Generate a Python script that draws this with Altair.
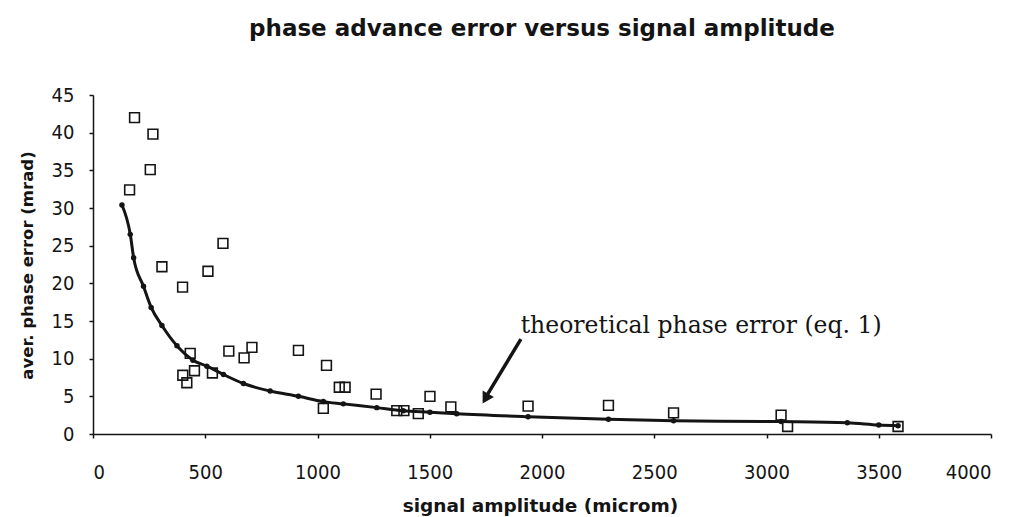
import altair as alt
import pandas as pd

# measured points (open squares)
meas_x = [163, 185, 255, 267, 307, 399, 400, 418, 433, 452, 512, 532, 579, 605, 673, 708,
          915, 1026, 1040, 1097, 1123, 1261, 1353, 1385, 1449, 1501, 1594, 1938, 2296,
          2586, 3065, 3094, 3586]
meas_y = [32.4, 42.0, 35.1, 39.8, 22.2, 19.5, 7.8, 6.8, 10.7, 8.4, 21.6, 8.1, 25.3, 11.0,
          10.1, 11.5, 11.1, 3.4, 9.1, 6.2, 6.2, 5.3, 3.1, 3.1, 2.7, 5.0, 3.6, 3.7, 3.8,
          2.8, 2.5, 1.0, 1.0]

# theoretical curve (line with dots)
theo_x = [129, 166, 181, 225, 259, 307, 374, 445, 507, 581, 670, 789, 915, 1026, 1115,
          1264, 1382, 1501, 1620, 1938, 2296, 2586, 3065, 3360, 3500, 3586]
theo_y = [30.4, 26.5, 23.4, 19.6, 16.8, 14.4, 11.7, 9.8, 9.0, 7.9, 6.7, 5.7, 5.0, 4.3, 4.0,
          3.5, 3.1, 2.9, 2.7, 2.3, 1.95, 1.75, 1.65, 1.5, 1.2, 1.1]

x_ticks = [0, 500, 1000, 1500, 2000, 2500, 3000, 3500, 4000]
y_ticks = [0, 5, 10, 15, 20, 25, 30, 35, 40, 45]

annot_text = ["theoretical phase error (eq. 1)"]
annot_x = [1905]
annot_y = [14.4]
arrow_start = [1906, 12.6]
arrow_end = [1758, 5.3]
arrow_head = [1748, 4.7]

INK = "#141414"
SANS = "DejaVu Sans"
NARROW = "'DejaVu Sans Condensed', 'Liberation Sans Narrow', 'Liberation Sans', sans-serif"

meas = pd.DataFrame({"x": meas_x, "y": meas_y})
theo = pd.DataFrame({"x": theo_x, "y": theo_y})
annot = pd.DataFrame({"x": annot_x, "y": annot_y, "t": annot_text})
arrow = pd.DataFrame({"x": [arrow_start[0]], "y": [arrow_start[1]],
                      "x2": [arrow_end[0]], "y2": [arrow_end[1]]})
head = pd.DataFrame({"x": [arrow_head[0]], "y": [arrow_head[1]]})

xscale = alt.Scale(domain=[0, 4000], nice=False)
yscale = alt.Scale(domain=[0, 45], nice=False)

xaxis = alt.Axis(values=x_ticks, grid=False, title="signal amplitude (microm)", format="d",
                 labelOverlap=False,
                 domainColor=INK, domainWidth=1.5, tickColor=INK, tickWidth=1.5, tickSize=4,
                 labelFont=NARROW, labelFontSize=20, labelColor=INK, labelPadding=24,
                 labelBaseline="top",
                 titleFont=SANS, titleFontSize=18.5, titleFontWeight="bold", titleColor=INK,
                 titleX=447, titleY=71, titleBaseline="middle", titleAlign="center")
yaxis = alt.Axis(values=y_ticks, grid=False, title="aver. phase error (mrad)", format="d",
                 labelOverlap=False,
                 domainColor=INK, domainWidth=1.5, tickColor=INK, tickWidth=1.5, tickSize=4,
                 labelFont=NARROW, labelFontSize=20, labelColor=INK, labelPadding=15,
                 titleFont=SANS, titleFontSize=16.5, titleFontWeight="bold", titleColor=INK,
                 titleAngle=270, titleX=-66, titleY=170, titleBaseline="middle",
                 titleAlign="center")

X = alt.X("x:Q", scale=xscale, axis=xaxis)
Y = alt.Y("y:Q", scale=yscale, axis=yaxis)

curve = alt.Chart(theo).mark_line(color=INK, strokeWidth=3, interpolate="monotone").encode(
    x=X, y=Y)
dots = alt.Chart(theo).mark_point(shape="circle", filled=True, size=30, color=INK,
                                  opacity=1).encode(x=X, y=Y)
squares = alt.Chart(meas).mark_point(shape="square", filled=False, size=95, color=INK,
                                     strokeWidth=1.6, opacity=1).encode(x=X, y=Y)
arrow_line = alt.Chart(arrow).mark_rule(color=INK, strokeWidth=3.5).encode(
    x=X, y=Y, x2="x2:Q", y2="y2:Q")
arrow_tip = alt.Chart(head).mark_point(shape="triangle-up", filled=True, size=170, color=INK,
                                       angle=210, opacity=1).encode(x=X, y=Y)
label = alt.Chart(annot).mark_text(font="DejaVu Serif", fontSize=23.5, color=INK,
                                   align="left", baseline="middle").encode(
    x=X, y=Y, text="t:N")

chart = alt.layer(curve, dots, squares, arrow_line, arrow_tip, label).properties(
    width=898, height=339,
    title=alt.TitleParams("phase advance error versus signal amplitude", font=SANS,
                          fontSize=23, fontWeight="bold", color=INK, anchor="middle",
                          offset=44),
    autosize=alt.AutoSizeParams(type="none"),
    padding={"left": 93, "top": 95, "right": 26, "bottom": 83},
).configure(background="white", view=alt.ViewConfig(strokeWidth=0, strokeOpacity=0))

chart.save("out.html", embed_options={"renderer": "svg", "actions": False})
